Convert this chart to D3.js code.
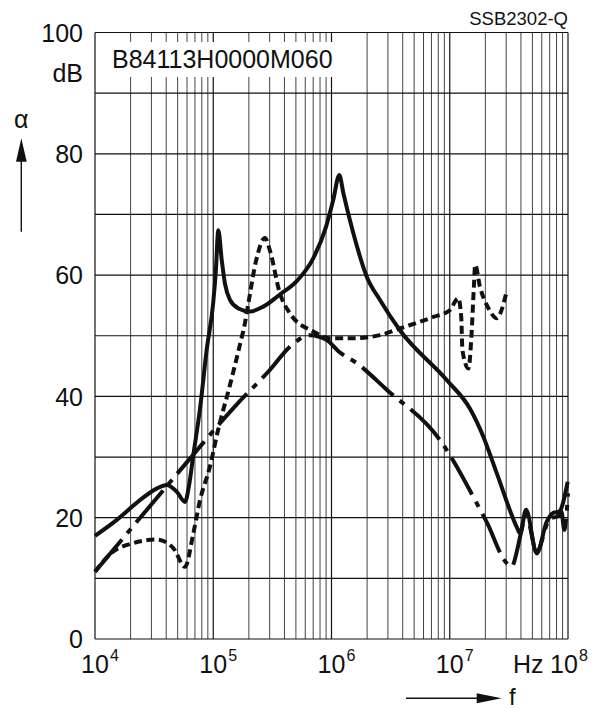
<!DOCTYPE html>
<html><head><meta charset="utf-8">
<script src="https://cdn.jsdelivr.net/npm/d3@7"></script>
<style>
html,body{margin:0;padding:0;background:#fff;}
svg{display:block;font-family:"Liberation Sans",Arial,Helvetica,sans-serif;}
</style></head>
<body>
<svg id="chart" width="600" height="708"></svg>
<script>
// ---- data ----
const solidF  = [1e4,1.52e4,2.4e4,3.32e4,4.04e4,4.91e4,5.77e4,6.2e4,6.78e4,7.73e4,8.79e4,1e5,1.05e5,1.104e5,1.179e5,1.256e5,1.385e5,1.63e5,2.046e5,2.65e5,3.66e5,5.08e5,7.02e5,9e5,1.035e6,1.164e6,1.26e6,1.53e6,1.99e6,2.57e6,3.79e6,9.42e6,1.48e7,1.92e7,2.5e7,3.68e7,3.93e7,4.42e7,5.44e7,6.6e7,7.5e7,8.4e7,9.94e7];
const solidDb = [17.0,19.6,22.9,24.8,25.4,24.3,22.6,25.0,30.3,38.0,47.6,55.5,60.5,67.4,62.5,58.6,55.9,54.5,54.0,54.8,56.8,59.0,62.8,68.0,72.4,76.5,73.5,66.9,59.7,55.9,50.9,42.7,38.0,33.4,27.3,18.5,17.4,21.3,14.1,19.3,20.8,21.0,25.9];

const dashF  = [1e4,1.42e4,2.11e4,3.32e4,4.59e4,5.77e4,6.78e4,7.73e4,9.37e4,1.1e5,1.39e5,1.68e5,1.85e5,1.98e5,2.31e5,2.74e5,3.01e5,3.66e5,4.45e5,7.02e5,9.74e5,1.53e6,2.57e6,3.79e6,7.26e6,1e7,1.18e7,1.25e7,1.28e7,1.44e7,1.53e7,1.6e7,1.64e7,1.8e7,2.13e7,2.49e7,3.03e7];
const dashDb = [11.1,14.4,15.8,16.4,15.0,11.9,17.4,22.9,28.4,34.5,42.0,48.5,52.0,55.3,62.5,66.1,64.1,57.0,53.7,50.7,49.6,49.6,50.1,51.2,53.1,54.2,56.2,53.1,47.6,44.6,50.4,58.1,61.7,58.1,54.5,52.9,57.3];

const dashDotF  = [1e4,4.04e4,6.58e4,1e5,1.5e5,3.02e5,4.45e5,6.58e5,9.11e5,1.15e6,1.63e6,2.93e6,8.27e6,1.69e7,2.05e7,3.03e7,3.34e7,3.7e7,4.0e7,4.4e7,5.44e7,7e7,8.3e7,8.8e7,9.3e7,9.6e7,1e8];
const dashDotDb = [11.1,25.2,30.1,34.3,38.2,44.4,48.2,50.1,49.3,47.4,45.5,41.1,32.8,22.4,19.3,12.5,11.9,14.5,17.5,20.5,14.5,19.8,20.3,21.0,18.0,19.5,24.0];

const yTicks = [0,20,40,60,80,100];
const yGrid = [0,10,20,30,40,50,60,70,80,90,100];
const xDecades = [4,5,6,7,8];
const title = "B84113H0000M060";
const code = "SSB2302-Q";

// ---- layout ----
const svg = d3.select("#chart");
const x = d3.scaleLog().domain([1e4,1e8]).range([95,568]);
const y = d3.scaleLinear().domain([0,100]).range([639,32.5]);

// grid
const g = svg.append("g");
const minor = [];
for (let d=4; d<8; d++) for (let m=2; m<=9; m++) minor.push(m*Math.pow(10,d));
g.selectAll(".vmin").data(minor).join("line")
  .attr("x1",d=>x(d)).attr("x2",d=>x(d)).attr("y1",y(0)).attr("y2",y(100))
  .attr("stroke","#444").attr("stroke-width",1);
g.selectAll(".vmaj").data(xDecades.map(e=>Math.pow(10,e))).join("line")
  .attr("x1",d=>x(d)).attr("x2",d=>x(d)).attr("y1",y(0)).attr("y2",y(100))
  .attr("stroke","#111").attr("stroke-width",1.2);
g.selectAll(".h").data(yGrid).join("line")
  .attr("x1",x(1e4)).attr("x2",x(1e8)).attr("y1",d=>y(d)).attr("y2",d=>y(d))
  .attr("stroke","#111").attr("stroke-width",1.2);

// title box
svg.append("rect").attr("x",97).attr("y",42).attr("width",241).attr("height",35).attr("fill","#fff");
svg.append("text").attr("x",112).attr("y",68).attr("font-size",25).attr("fill","#111").text(title);
svg.append("text").attr("x",568).attr("y",25).attr("text-anchor","end").attr("font-size",18.5).attr("fill","#111").text(code);

// curves
const line = d3.line().x(d=>x(d[0])).y(d=>y(d[1])).curve(d3.curveMonotoneX);
const curves = [
  {f:solidF, v:solidDb, dash:null},
  {f:dashF, v:dashDb, dash:"8,4.5"},
  {f:dashDotF, v:dashDotDb, dash:"42,8,6,8"}
];
curves.forEach(c=>{
  svg.append("path").datum(d3.zip(c.f,c.v)).attr("d",line)
    .attr("fill","none").attr("stroke","#111").attr("stroke-width",4)
    .attr("stroke-dasharray",c.dash);
});

// y tick labels
svg.selectAll(".yl").data(yTicks).join("text")
  .attr("x",83).attr("y",d=>y(d)+9.2).attr("text-anchor","end")
  .attr("font-size",25).attr("fill","#111").text(d=>d);
svg.append("text").attr("x",83).attr("y",81.5).attr("text-anchor","end").attr("font-size",25).attr("fill","#111").text("dB");

// x tick labels
xDecades.forEach(e=>{
  const cx = e===8 ? 564 : x(Math.pow(10,e));
  svg.append("text").attr("x",cx).attr("y",673).attr("text-anchor","middle").attr("font-size",25).attr("fill","#111").text("10");
  svg.append("text").attr("x",cx+15).attr("y",661).attr("font-size",16).attr("fill","#111").text(e);
});
svg.append("text").attr("x",513).attr("y",673).attr("font-size",25).attr("fill","#111").text("Hz");

// alpha axis label and arrow
svg.append("text").attr("x",21.3).attr("y",128).attr("text-anchor","middle").attr("font-size",25).attr("fill","#111").text("α");
svg.append("line").attr("x1",21.3).attr("x2",21.3).attr("y1",231.7).attr("y2",158).attr("stroke","#111").attr("stroke-width",1.4);
svg.append("path").attr("d","M21.3,138.3 L16,161.7 L26.7,161.7 Z").attr("fill","#111");

// f label and arrow
svg.append("line").attr("x1",406).attr("x2",480).attr("y1",698.3).attr("y2",698.3).attr("stroke","#111").attr("stroke-width",1.4);
svg.append("path").attr("d","M501.7,698.3 L476.7,693.3 L476.7,703.3 Z").attr("fill","#111");
svg.append("text").attr("x",509).attr("y",704.5).attr("font-size",24).attr("fill","#111").text("f");
</script>
</body></html>
